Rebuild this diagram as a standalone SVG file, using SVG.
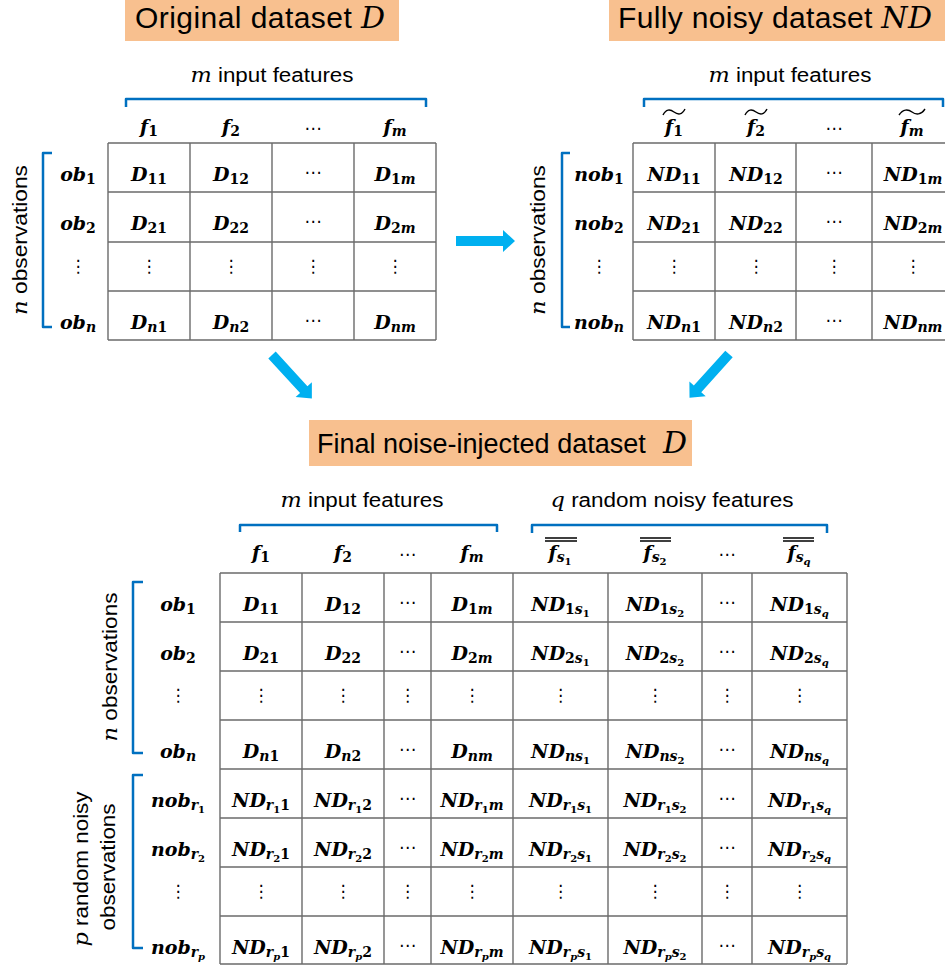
<svg xmlns="http://www.w3.org/2000/svg" width="945" height="968" viewBox="0 0 945 968">
<style>
.bg{fill:#fff}
.tbox{fill:#F8C08F}
.title{font-family:"Liberation Sans",Arial,sans-serif;font-size:30px;fill:#000;text-anchor:middle}
.mi{font-family:"DejaVu Serif",serif;font-style:italic;font-weight:normal}
.lab{font-family:"Liberation Sans",Arial,sans-serif;font-size:20px;fill:#000;text-anchor:middle}
.grid{fill:none;stroke:#6b6b6b;stroke-width:1.4}
.br{fill:none;stroke:#0070C0;stroke-width:2.5;stroke-linejoin:round}
.m{font-family:"DejaVu Serif",serif;font-weight:bold;font-style:italic;font-size:19px;fill:#000;text-anchor:middle}
.b{font-size:14px;font-style:normal}
.i{font-size:14px}
.bb{font-size:10px;font-style:normal}
.ii{font-size:10px}
.d{font-family:"DejaVu Sans",sans-serif;font-size:17px;fill:#000;text-anchor:middle}
.acc{fill:none;stroke:#000;stroke-width:1.4}
.arr{fill:#00B0F0}
</style>
<defs>
<path id="arrow" d="M0,-5 L47,-5 L47,-11 L59,0 L47,11 L47,5 L0,5 Z"/>
</defs>
<rect class="bg" x="0" y="0" width="945" height="968"/>

<g id="title-original">
<rect class="tbox" x="125" y="0" width="274" height="41"/>
<text class="title" x="260" y="28" textLength="250">Original dataset <tspan class="mi">D</tspan></text>
</g>

<g id="title-noisy">
<rect class="tbox" x="609" y="0" width="340" height="41"/>
<text class="title" x="775" y="28" textLength="314">Fully noisy dataset <tspan class="mi">ND</tspan></text>
</g>

<g id="title-final">
<rect class="tbox" x="309" y="420" width="383" height="46"/>
<text class="title" x="317" y="453" style="text-anchor:start;font-size:27px">Final noise-injected dataset</text>
<text class="title mi" x="663" y="453" style="text-anchor:start">D</text>
</g>

<g id="table-original">
<text class="lab" x="272" y="82" textLength="163" lengthAdjust="spacingAndGlyphs"><tspan class="mi">m</tspan> input features</text>
<path class="br" d="M126,107 V99 H426 V107"/>
<path class="br" d="M52,153 H43 V327 H52"/>
<text class="lab" transform="translate(27,240) rotate(-90)" textLength="150" lengthAdjust="spacingAndGlyphs"><tspan class="mi">n</tspan> observations</text>
<path class="grid" d="M108,143 V340 M190,143 V340 M272,143 V340 M354,143 V340 M436,143 V340 M108,143 H436 M108,192 H436 M108,242 H436 M108,291 H436 M108,340 H436"/>
<text class="m" x="149" y="133">f<tspan class="b" dy="3">1</tspan></text>
<text class="m" x="231" y="133">f<tspan class="b" dy="3">2</tspan></text>
<text class="d" x="313" y="134">⋯</text>
<text class="m" x="395" y="133">f<tspan class="i" dy="3">m</tspan></text>
<text class="m" x="78" y="181">ob<tspan class="b" dy="3">1</tspan></text>
<text class="m" x="78" y="230">ob<tspan class="b" dy="3">2</tspan></text>
<text class="d" x="78" y="272">⋮</text>
<text class="m" x="78" y="329">ob<tspan class="i" dy="3">n</tspan></text>
<text class="m" x="149" y="181">D<tspan class="b" dy="3">11</tspan></text>
<text class="m" x="231" y="181">D<tspan class="b" dy="3">12</tspan></text>
<text class="d" x="313" y="178">⋯</text>
<text class="m" x="395" y="181">D<tspan class="b" dy="3">1</tspan><tspan class="i">m</tspan></text>
<text class="m" x="149" y="230">D<tspan class="b" dy="3">21</tspan></text>
<text class="m" x="231" y="230">D<tspan class="b" dy="3">22</tspan></text>
<text class="d" x="313" y="227">⋯</text>
<text class="m" x="395" y="230">D<tspan class="b" dy="3">2</tspan><tspan class="i">m</tspan></text>
<text class="d" x="149" y="272">⋮</text>
<text class="d" x="231" y="272">⋮</text>
<text class="d" x="313" y="272">⋮</text>
<text class="d" x="395" y="272">⋮</text>
<text class="m" x="149" y="329">D<tspan class="i" dy="3">n</tspan><tspan class="b">1</tspan></text>
<text class="m" x="231" y="329">D<tspan class="i" dy="3">n</tspan><tspan class="b">2</tspan></text>
<text class="d" x="313" y="326">⋯</text>
<text class="m" x="395" y="329">D<tspan class="i" dy="3">nm</tspan></text>
</g>

<g id="table-noisy">
<text class="lab" x="790" y="82" textLength="163" lengthAdjust="spacingAndGlyphs"><tspan class="mi">m</tspan> input features</text>
<path class="br" d="M644,107 V99 H943 V107"/>
<path class="br" d="M570,153 H562 V327 H570"/>
<text class="lab" transform="translate(545,240) rotate(-90)" textLength="150" lengthAdjust="spacingAndGlyphs"><tspan class="mi">n</tspan> observations</text>
<path class="grid" d="M633,143 V340 M715,143 V340 M796,143 V340 M872,143 V340 M633,143 H955 M633,192 H955 M633,242 H955 M633,291 H955 M633,340 H955"/>
<text class="m" x="674" y="133">f<tspan class="b" dy="3">1</tspan></text>
<path class="acc" d="M663,115 C666,109 670,109 674,112 S682,115 685,109"/>
<text class="m" x="756" y="133">f<tspan class="b" dy="3">2</tspan></text>
<path class="acc" d="M745,115 C748,109 752,109 756,112 S764,115 767,109"/>
<text class="d" x="834" y="134">⋯</text>
<text class="m" x="912" y="133">f<tspan class="i" dy="3">m</tspan></text>
<path class="acc" d="M899,115 C903,109 908,109 912,112 S921,115 925,109"/>
<text class="m" x="599" y="181">nob<tspan class="b" dy="3">1</tspan></text>
<text class="m" x="599" y="230">nob<tspan class="b" dy="3">2</tspan></text>
<text class="d" x="599" y="272">⋮</text>
<text class="m" x="599" y="329">nob<tspan class="i" dy="3">n</tspan></text>
<text class="m" x="674" y="181">ND<tspan class="b" dy="3">11</tspan></text>
<text class="m" x="756" y="181">ND<tspan class="b" dy="3">12</tspan></text>
<text class="d" x="834" y="178">⋯</text>
<text class="m" x="913" y="181">ND<tspan class="b" dy="3">1</tspan><tspan class="i">m</tspan></text>
<text class="m" x="674" y="230">ND<tspan class="b" dy="3">21</tspan></text>
<text class="m" x="756" y="230">ND<tspan class="b" dy="3">22</tspan></text>
<text class="d" x="834" y="227">⋯</text>
<text class="m" x="913" y="230">ND<tspan class="b" dy="3">2</tspan><tspan class="i">m</tspan></text>
<text class="d" x="674" y="272">⋮</text>
<text class="d" x="756" y="272">⋮</text>
<text class="d" x="834" y="272">⋮</text>
<text class="d" x="913" y="272">⋮</text>
<text class="m" x="674" y="329">ND<tspan class="i" dy="3">n</tspan><tspan class="b">1</tspan></text>
<text class="m" x="756" y="329">ND<tspan class="i" dy="3">n</tspan><tspan class="b">2</tspan></text>
<text class="d" x="834" y="326">⋯</text>
<text class="m" x="913" y="329">ND<tspan class="i" dy="3">nm</tspan></text>
</g>

<g id="table-final">
<text class="lab" x="362" y="507" textLength="163" lengthAdjust="spacingAndGlyphs"><tspan class="mi">m</tspan> input features</text>
<text class="lab" x="672" y="507" textLength="243" lengthAdjust="spacingAndGlyphs"><tspan class="mi">q</tspan> random noisy features</text>
<path class="br" d="M240,532 V525 H497 V532"/>
<path class="br" d="M532,533 V525 H827 V533"/>
<path class="br" d="M143,582 H133 V753 H143"/>
<path class="br" d="M143,775 H133 V948 H143"/>
<text class="lab" transform="translate(117,667) rotate(-90)" textLength="149" lengthAdjust="spacingAndGlyphs"><tspan class="mi">n</tspan> observations</text>
<text class="lab" transform="translate(88,869) rotate(-90)" textLength="155" lengthAdjust="spacingAndGlyphs"><tspan class="mi">p</tspan> random noisy</text>
<text class="lab" transform="translate(115,867) rotate(-90)" textLength="127" lengthAdjust="spacingAndGlyphs">observations</text>
<path class="grid" d="M220,573 V964 M302,573 V964 M384,573 V964 M431,573 V964 M513,573 V964 M608,573 V964 M702,573 V964 M752,573 V964 M847,573 V964 M220,573 H847 M220,622 H847 M220,671 H847 M220,720 H847 M220,769 H847 M220,818 H847 M220,867 H847 M220,916 H847 M220,964 H847"/>
<text class="m" x="261" y="559">f<tspan class="b" dy="3">1</tspan></text>
<text class="m" x="343" y="559">f<tspan class="b" dy="3">2</tspan></text>
<text class="d" x="407.5" y="560">⋯</text>
<text class="m" x="472" y="559">f<tspan class="i" dy="3">m</tspan></text>
<text class="m" x="560" y="559">f<tspan class="i" dy="3">s</tspan><tspan class="bb" dy="3">1</tspan></text>
<path class="acc" d="M545,538 H577 M545,541 H577"/>
<text class="m" x="655" y="559">f<tspan class="i" dy="3">s</tspan><tspan class="bb" dy="3">2</tspan></text>
<path class="acc" d="M640,538 H671 M640,541 H671"/>
<text class="d" x="727" y="560">⋯</text>
<text class="m" x="799" y="559">f<tspan class="i" dy="3">s</tspan><tspan class="ii" dy="3">q</tspan></text>
<path class="acc" d="M783,538 H814 M783,541 H814"/>

<text class="m" x="178" y="611">ob<tspan class="b" dy="3">1</tspan></text>
<text class="m" x="178" y="660">ob<tspan class="b" dy="3">2</tspan></text>
<text class="d" x="178" y="701">⋮</text>
<text class="m" x="178" y="758">ob<tspan class="i" dy="3">n</tspan></text>
<text class="m" x="178" y="807">nob<tspan class="i" dy="3">r</tspan><tspan class="bb" dy="3">1</tspan></text>
<text class="m" x="178" y="856">nob<tspan class="i" dy="3">r</tspan><tspan class="bb" dy="3">2</tspan></text>
<text class="d" x="178" y="897">⋮</text>
<text class="m" x="178" y="954">nob<tspan class="i" dy="3">r</tspan><tspan class="ii" dy="3">p</tspan></text>

<text class="m" x="261" y="611">D<tspan class="b" dy="3">11</tspan></text>
<text class="m" x="343" y="611">D<tspan class="b" dy="3">12</tspan></text>
<text class="d" x="407.5" y="608">⋯</text>
<text class="m" x="472" y="611">D<tspan class="b" dy="3">1</tspan><tspan class="i">m</tspan></text>
<text class="m" x="560.5" y="611">ND<tspan class="b" dy="3">1</tspan><tspan class="i">s</tspan><tspan class="bb" dy="3">1</tspan></text>
<text class="m" x="655" y="611">ND<tspan class="b" dy="3">1</tspan><tspan class="i">s</tspan><tspan class="bb" dy="3">2</tspan></text>
<text class="d" x="727" y="608">⋯</text>
<text class="m" x="799.5" y="611">ND<tspan class="b" dy="3">1</tspan><tspan class="i">s</tspan><tspan class="ii" dy="3">q</tspan></text>

<text class="m" x="261" y="660">D<tspan class="b" dy="3">21</tspan></text>
<text class="m" x="343" y="660">D<tspan class="b" dy="3">22</tspan></text>
<text class="d" x="407.5" y="657">⋯</text>
<text class="m" x="472" y="660">D<tspan class="b" dy="3">2</tspan><tspan class="i">m</tspan></text>
<text class="m" x="560.5" y="660">ND<tspan class="b" dy="3">2</tspan><tspan class="i">s</tspan><tspan class="bb" dy="3">1</tspan></text>
<text class="m" x="655" y="660">ND<tspan class="b" dy="3">2</tspan><tspan class="i">s</tspan><tspan class="bb" dy="3">2</tspan></text>
<text class="d" x="727" y="657">⋯</text>
<text class="m" x="799.5" y="660">ND<tspan class="b" dy="3">2</tspan><tspan class="i">s</tspan><tspan class="ii" dy="3">q</tspan></text>

<text class="d" x="261" y="701">⋮</text>
<text class="d" x="343" y="701">⋮</text>
<text class="d" x="407.5" y="701">⋮</text>
<text class="d" x="472" y="701">⋮</text>
<text class="d" x="560.5" y="701">⋮</text>
<text class="d" x="655" y="701">⋮</text>
<text class="d" x="727" y="701">⋮</text>
<text class="d" x="799.5" y="701">⋮</text>

<text class="m" x="261" y="758">D<tspan class="i" dy="3">n</tspan><tspan class="b">1</tspan></text>
<text class="m" x="343" y="758">D<tspan class="i" dy="3">n</tspan><tspan class="b">2</tspan></text>
<text class="d" x="407.5" y="755">⋯</text>
<text class="m" x="472" y="758">D<tspan class="i" dy="3">nm</tspan></text>
<text class="m" x="560.5" y="758">ND<tspan class="i" dy="3">ns</tspan><tspan class="bb" dy="3">1</tspan></text>
<text class="m" x="655" y="758">ND<tspan class="i" dy="3">ns</tspan><tspan class="bb" dy="3">2</tspan></text>
<text class="d" x="727" y="755">⋯</text>
<text class="m" x="799.5" y="758">ND<tspan class="i" dy="3">ns</tspan><tspan class="ii" dy="3">q</tspan></text>

<text class="m" x="261" y="807">ND<tspan class="i" dy="3">r</tspan><tspan class="bb" dy="3">1</tspan><tspan class="b" dy="-3">1</tspan></text>
<text class="m" x="343" y="807">ND<tspan class="i" dy="3">r</tspan><tspan class="bb" dy="3">1</tspan><tspan class="b" dy="-3">2</tspan></text>
<text class="d" x="407.5" y="804">⋯</text>
<text class="m" x="472" y="807">ND<tspan class="i" dy="3">r</tspan><tspan class="bb" dy="3">1</tspan><tspan class="i" dy="-3">m</tspan></text>
<text class="m" x="560.5" y="807">ND<tspan class="i" dy="3">r</tspan><tspan class="bb" dy="3">1</tspan><tspan class="i" dy="-3">s</tspan><tspan class="bb" dy="3">1</tspan></text>
<text class="m" x="655" y="807">ND<tspan class="i" dy="3">r</tspan><tspan class="bb" dy="3">1</tspan><tspan class="i" dy="-3">s</tspan><tspan class="bb" dy="3">2</tspan></text>
<text class="d" x="727" y="804">⋯</text>
<text class="m" x="799.5" y="807">ND<tspan class="i" dy="3">r</tspan><tspan class="bb" dy="3">1</tspan><tspan class="i" dy="-3">s</tspan><tspan class="ii" dy="3">q</tspan></text>

<text class="m" x="261" y="856">ND<tspan class="i" dy="3">r</tspan><tspan class="bb" dy="3">2</tspan><tspan class="b" dy="-3">1</tspan></text>
<text class="m" x="343" y="856">ND<tspan class="i" dy="3">r</tspan><tspan class="bb" dy="3">2</tspan><tspan class="b" dy="-3">2</tspan></text>
<text class="d" x="407.5" y="853">⋯</text>
<text class="m" x="472" y="856">ND<tspan class="i" dy="3">r</tspan><tspan class="bb" dy="3">2</tspan><tspan class="i" dy="-3">m</tspan></text>
<text class="m" x="560.5" y="856">ND<tspan class="i" dy="3">r</tspan><tspan class="bb" dy="3">2</tspan><tspan class="i" dy="-3">s</tspan><tspan class="bb" dy="3">1</tspan></text>
<text class="m" x="655" y="856">ND<tspan class="i" dy="3">r</tspan><tspan class="bb" dy="3">2</tspan><tspan class="i" dy="-3">s</tspan><tspan class="bb" dy="3">2</tspan></text>
<text class="d" x="727" y="853">⋯</text>
<text class="m" x="799.5" y="856">ND<tspan class="i" dy="3">r</tspan><tspan class="bb" dy="3">2</tspan><tspan class="i" dy="-3">s</tspan><tspan class="ii" dy="3">q</tspan></text>

<text class="d" x="261" y="897">⋮</text>
<text class="d" x="343" y="897">⋮</text>
<text class="d" x="407.5" y="897">⋮</text>
<text class="d" x="472" y="897">⋮</text>
<text class="d" x="560.5" y="897">⋮</text>
<text class="d" x="655" y="897">⋮</text>
<text class="d" x="727" y="897">⋮</text>
<text class="d" x="799.5" y="897">⋮</text>

<text class="m" x="261" y="954">ND<tspan class="i" dy="3">r</tspan><tspan class="ii" dy="3">p</tspan><tspan class="b" dy="-3">1</tspan></text>
<text class="m" x="343" y="954">ND<tspan class="i" dy="3">r</tspan><tspan class="ii" dy="3">p</tspan><tspan class="b" dy="-3">2</tspan></text>
<text class="d" x="407.5" y="951">⋯</text>
<text class="m" x="472" y="954">ND<tspan class="i" dy="3">r</tspan><tspan class="ii" dy="3">p</tspan><tspan class="i" dy="-3">m</tspan></text>
<text class="m" x="560.5" y="954">ND<tspan class="i" dy="3">r</tspan><tspan class="ii" dy="3">p</tspan><tspan class="i" dy="-3">s</tspan><tspan class="bb" dy="3">1</tspan></text>
<text class="m" x="655" y="954">ND<tspan class="i" dy="3">r</tspan><tspan class="ii" dy="3">p</tspan><tspan class="i" dy="-3">s</tspan><tspan class="bb" dy="3">2</tspan></text>
<text class="d" x="727" y="951">⋯</text>
<text class="m" x="799.5" y="954">ND<tspan class="i" dy="3">r</tspan><tspan class="ii" dy="3">p</tspan><tspan class="i" dy="-3">s</tspan><tspan class="ii" dy="3">q</tspan></text>
</g>

<g id="connectors">
<use href="#arrow" class="arr" transform="translate(456,241)"/>
<use href="#arrow" class="arr" transform="translate(272,355) rotate(47.5)"/>
<use href="#arrow" class="arr" transform="translate(729,354) rotate(132)"/>
</g>
</svg>
